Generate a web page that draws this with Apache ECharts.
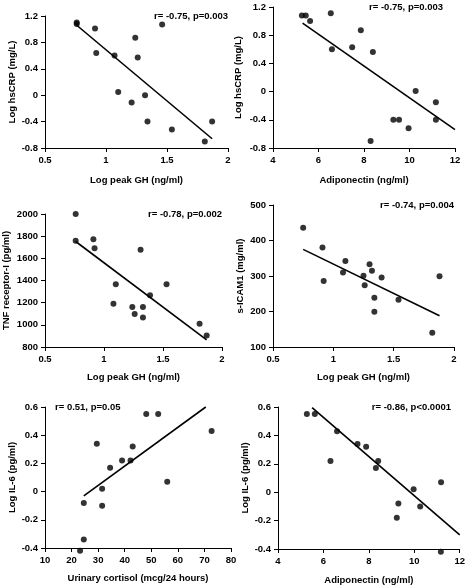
<!DOCTYPE html>
<html>
<head>
<meta charset="utf-8">
<script src="https://cdn.jsdelivr.net/npm/echarts@6/dist/echarts.min.js"></script>
<style>
html,body{margin:0;padding:0;background:#fff;}
#c{width:468px;height:586px;}
</style>
</head>
<body>
<div id="c"></div>
<script>
// Panel 1: Log peak GH vs Log hsCRP
const p1X = [0.76,0.76,0.91,0.92,1.07,1.24,1.26,1.46,1.10,1.21,1.32,1.34,1.54,1.81,1.87];
const p1Y = [1.10,1.08,1.01,0.64,0.60,0.87,0.57,1.07,0.05,-0.11,0.00,-0.40,-0.52,-0.70,-0.40];
const p1LineX = [0.76,1.87];
const p1LineY = [1.06,-0.66];
// Panel 2: Adiponectin vs Log hsCRP
const p2X = [5.27,5.44,5.63,6.54,6.59,7.48,7.86,8.39,10.27,9.29,9.54,9.96,11.16,11.16,8.29];
const p2Y = [1.08,1.08,1.00,1.11,0.60,0.63,0.87,0.56,0.01,-0.40,-0.40,-0.52,-0.15,-0.40,-0.70];
const p2LineX = [5.30,12.0];
const p2LineY = [0.97,-0.54];
// Panel 3: Log peak GH vs TNF receptor-I
const p3X = [0.76,0.76,0.91,0.92,1.10,1.08,1.24,1.26,1.31,1.33,1.33,1.39,1.53,1.81,1.87];
const p3Y = [2000,1758,1773,1692,1366,1190,1160,1097,1677,1160,1066,1266,1366,1009,903];
const p3LineX = [0.76,1.87];
const p3LineY = [1752,864];
// Panel 4: Log peak GH vs s-ICAM1
const p4X = [0.75,0.91,0.92,1.08,1.10,1.25,1.26,1.30,1.32,1.34,1.34,1.40,1.54,1.82,1.88];
const p4Y = [436,380,286,310,342,301,274,333,315,239,199,296,233,140,299];
const p4LineX = [0.75,1.88];
const p4LineY = [375,188];
// Panel 5: Urinary cortisol vs Log IL-6
const p5X = [23.2,24.6,24.6,29.5,31.5,31.5,34.5,39.0,42.2,43.0,48.1,52.6,56.0,72.7];
const p5Y = [-0.42,-0.34,-0.08,0.34,0.02,-0.10,0.17,0.22,0.22,0.32,0.55,0.55,0.07,0.43];
const p5LineX = [24.6,70.5];
const p5LineY = [-0.03,0.60];
// Panel 6: Adiponectin vs Log IL-6
const p6X = [5.27,5.62,6.60,6.31,7.50,7.88,8.41,8.31,9.97,9.30,9.23,10.26,11.18,11.17];
const p6Y = [0.55,0.55,0.43,0.22,0.34,0.32,0.22,0.17,0.02,-0.08,-0.18,-0.10,0.07,-0.42];
const p6LineX = [5.5,12.0];
const p6LineY = [0.595,-0.30];

// Axis settings
const xNames = ['Log peak GH (ng/ml)','Adiponectin (ng/ml)','Log peak GH (ng/ml)','Log peak GH (ng/ml)','Urinary cortisol (mcg/24 hours)','Adiponectin (ng/ml)'];
const yNames = ['Log hsCRP (mg/L)','Log hsCRP (mg/L)','TNF receptor-I (pg/ml)','s-ICAM1 (mg/ml)','Log IL-6 (pg/ml)','Log IL-6 (pg/ml)'];
const xRanges = [[0.5,2,0.5],[4,12,2],[0.5,2,0.5],[0.5,2,0.5],[10,80,10],[4,12,2]];
const yRanges = [[-0.8,1.2,0.4],[-0.8,1.2,0.4],[800,2000,200],[100,500,100],[-0.4,0.6,0.2],[-0.4,0.6,0.2]];
const statLabels = ['r= -0.75, p=0.003','r= -0.75, p=0.003','r= -0.78, p=0.002','r= -0.74, p=0.004','r= 0.51, p=0.05','r= -0.86, p<0.0001'];

const allX = [p1X,p2X,p3X,p4X,p5X,p6X];
const allY = [p1Y,p2Y,p3Y,p4Y,p5Y,p6Y];
const allLX = [p1LineX,p2LineX,p3LineX,p4LineX,p5LineX,p6LineX];
const allLY = [p1LineY,p2LineY,p3LineY,p4LineY,p5LineY,p6LineY];

// layout (pixels)
const grids = [
  {left:45, top:16, width:183, height:132},
  {left:273, top:7, width:182, height:141},
  {left:45, top:214, width:177, height:133},
  {left:273, top:205, width:181, height:142},
  {left:45, top:407, width:186, height:141},
  {left:278, top:407, width:184, height:142}
];
const yNameGaps = [28,30,34,28,28,27];
const xNameGaps = [27,27,25,25,25,26];
const statPos = [
  {x:228, y:11, align:'right'},
  {x:443, y:2, align:'right'},
  {x:222, y:209, align:'right'},
  {x:454, y:200, align:'right'},
  {x:55, y:402, align:'left'},
  {x:451, y:402, align:'right'}
];

const FONT = '"Liberation Sans", Arial, sans-serif';
const fmt = v => String(+v.toFixed(2));

const xAxis = [], yAxis = [], series = [], graphic = [];
for (let i = 0; i < 6; i++) {
  const common = {
    gridIndex: i, type: 'value',
    axisLine: {show: true, onZero: false, lineStyle: {color: '#000', width: 1}},
    axisTick: {show: true, inside: false, length: 4, lineStyle: {color: '#000'}},
    splitLine: {show: false},
    nameLocation: 'middle',
    nameTextStyle: {color: '#000', fontWeight: 'bold', fontSize: 9.5, fontFamily: FONT},
    axisLabel: {color: '#000', fontWeight: 'bold', fontSize: 9.5, fontFamily: FONT, formatter: fmt, margin: 7}
  };
  xAxis.push(Object.assign({}, common, {
    min: xRanges[i][0], max: xRanges[i][1], interval: xRanges[i][2],
    name: xNames[i], nameGap: xNameGaps[i]
  }));
  yAxis.push(Object.assign({}, common, {
    min: yRanges[i][0], max: yRanges[i][1], interval: yRanges[i][2],
    name: yNames[i], nameGap: yNameGaps[i]
  }));
  series.push({
    type: 'scatter', xAxisIndex: i, yAxisIndex: i,
    data: allX[i].map((x, k) => [x, allY[i][k]]),
    symbol: 'circle', symbolSize: 6, clip: false,
    itemStyle: {color: '#000'}, silent: true, animation: false
  });
  series.push({
    type: 'line', xAxisIndex: i, yAxisIndex: i,
    data: allLX[i].map((x, k) => [x, allLY[i][k]]),
    symbol: 'none', clip: false, lineStyle: {color: '#000', width: 1.6},
    silent: true, animation: false
  });
  graphic.push({
    type: 'text', left: statPos[i].align === 'left' ? statPos[i].x : null,
    right: statPos[i].align === 'right' ? 468 - statPos[i].x : null,
    top: statPos[i].y,
    style: {text: statLabels[i], fill: '#000', font: 'bold 9.5px ' + FONT}
  });
}

const chart = echarts.init(document.getElementById('c'), null, {renderer: 'canvas'});
chart.setOption({
  animation: false,
  backgroundColor: '#fff',
  grid: grids,
  xAxis: xAxis,
  yAxis: yAxis,
  series: series,
  graphic: graphic
});
</script>
</body>
</html>
